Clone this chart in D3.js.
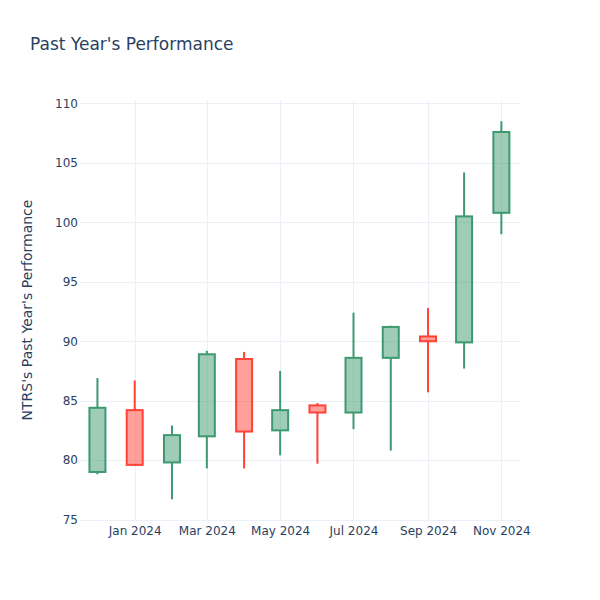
<!DOCTYPE html>
<html>
<head>
<meta charset="utf-8">
<script src="https://cdn.jsdelivr.net/npm/d3@7"></script>
<style>
  html, body { margin: 0; padding: 0; background: #fff; }
  svg { display: block; }
  text { font-family: "DejaVu Sans", Verdana, sans-serif; fill: #2a3f5f; }
</style>
</head>
<body>
<svg id="chart" width="600" height="600"></svg>
<script>
const dates = ["2023-12-01","2024-01-01","2024-02-01","2024-03-01","2024-04-01","2024-05-01",
               "2024-06-01","2024-07-01","2024-08-01","2024-09-01","2024-10-01","2024-11-01"];
const openVals  = [79.0, 84.2, 79.8, 82.0, 88.5, 82.5, 84.6, 84.0, 88.6, 90.4, 89.9, 100.8];
const highVals  = [86.9, 86.7, 82.9, 89.2, 89.1, 87.5, 84.8, 92.4, 91.3, 92.8, 104.2, 108.5];
const lowVals   = [78.8, 79.5, 76.7, 79.3, 79.3, 80.4, 79.7, 82.6, 80.8, 85.7, 87.7, 99.0];
const closeVals = [84.4, 79.6, 82.1, 88.9, 82.4, 84.2, 84.0, 88.6, 91.2, 90.0, 100.5, 107.6];
const yTicks = [75, 80, 85, 90, 95, 100, 105, 110];
const xTickDates = ["2024-01-01","2024-03-01","2024-05-01","2024-07-01","2024-09-01","2024-11-01"];

const title = "Past Year's Performance";
const yTitle = "NTRS's Past Year's Performance";

const svg = d3.select("#chart");
const L = 80, R = 520, T = 100, B = 520;

const parse = d3.utcParse("%Y-%m-%d");
const x = d3.scaleUtc()
  .domain([new Date(Date.UTC(2023, 10, 16, 12)), new Date(Date.UTC(2024, 10, 16, 12))])
  .range([L, R]);
const y = d3.scaleLinear().domain([74.96, 110.29]).range([B, T]);

const grid = "#EBF0F8";
// horizontal grid
svg.append("g").selectAll("line").data(yTicks).join("line")
  .attr("x1", L).attr("x2", R)
  .attr("y1", d => Math.round(y(d)) + 0.5).attr("y2", d => Math.round(y(d)) + 0.5)
  .attr("stroke", grid).attr("stroke-width", 1);
// vertical grid
const xt = xTickDates.map(parse);
svg.append("g").selectAll("line").data(xt).join("line")
  .attr("y1", T).attr("y2", B)
  .attr("x1", d => Math.round(x(d)) + 0.5).attr("x2", d => Math.round(x(d)) + 0.5)
  .attr("stroke", grid).attr("stroke-width", 1);

// axes via d3
const yAxis = d3.axisLeft(y).tickValues(yTicks).tickSize(0).tickPadding(2);
const gy = svg.append("g").attr("transform", `translate(${L},0)`).call(yAxis);
gy.select(".domain").remove();
gy.selectAll("text").style("font-size", "12px").attr("fill", "#2a3f5f")
  .style("font-family", "'DejaVu Sans', Verdana, sans-serif");

const xAxis = d3.axisBottom(x).tickValues(xt).tickFormat(d3.utcFormat("%b %Y")).tickSize(0).tickPadding(6);
const gx = svg.append("g").attr("transform", `translate(0,${B})`).call(xAxis);
gx.select(".domain").remove();
gx.selectAll("text").style("font-size", "12px").attr("fill", "#2a3f5f")
  .style("font-family", "'DejaVu Sans', Verdana, sans-serif");

// candles
const data = dates.map((d, i) => ({
  date: parse(d), open: openVals[i], high: highVals[i], low: lowVals[i], close: closeVals[i]
}));
const halfDays = 6.65 * 24 * 3600 * 1000;
const inc = "#3D9970", dec = "#FF4136";
const g = svg.append("g");
data.forEach(d => {
  const up = d.close >= d.open;
  const col = up ? inc : dec;
  const cx = x(d.date);
  const x0 = x(new Date(d.date.getTime() - halfDays));
  const x1 = x(new Date(d.date.getTime() + halfDays));
  const top = y(Math.max(d.open, d.close));
  const bot = y(Math.min(d.open, d.close));
  const cg = g.append("g");
  cg.append("line").attr("x1", cx).attr("x2", cx).attr("y1", y(d.high)).attr("y2", top)
    .attr("stroke", col).attr("stroke-width", 2);
  cg.append("line").attr("x1", cx).attr("x2", cx).attr("y1", bot).attr("y2", y(d.low))
    .attr("stroke", col).attr("stroke-width", 2);
  cg.append("rect").attr("x", x0).attr("width", x1 - x0).attr("y", top).attr("height", Math.max(0.5, bot - top))
    .attr("fill", col).attr("fill-opacity", 0.5).attr("stroke", col).attr("stroke-width", 2);
});

// titles
svg.append("text").attr("x", 30).attr("y", 50).style("font-size", "17px").text(title);
svg.append("text")
  .attr("transform", `translate(32,${(T + B) / 2}) rotate(-90)`)
  .attr("text-anchor", "middle").style("font-size", "14px").text(yTitle);
</script>
</body>
</html>
